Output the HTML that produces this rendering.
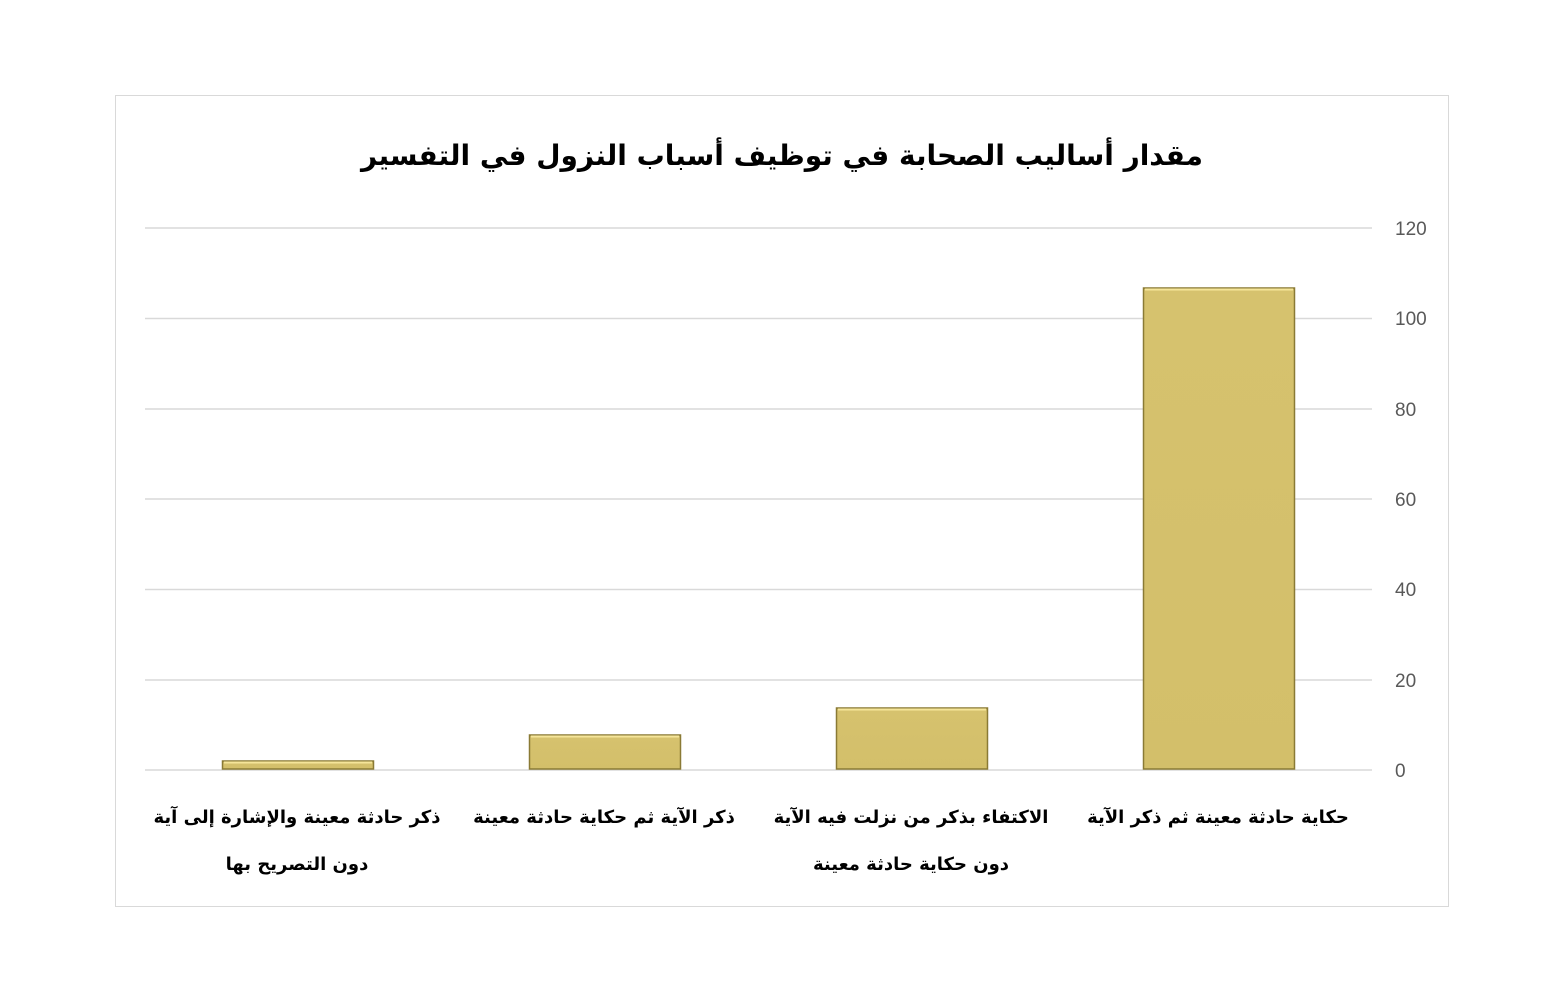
<!DOCTYPE html>
<html><head><meta charset="utf-8"><style>
body{margin:0;background:#fff;width:1562px;height:1001px;overflow:hidden}
svg{display:block}
.ar{font-family:"DejaVu Sans",sans-serif;font-weight:bold;fill:#000}
.t{font-family:"Liberation Sans",sans-serif;font-size:19px;fill:#595959}
</style></head><body>
<svg width="1562" height="1001" xmlns="http://www.w3.org/2000/svg">
<defs>
<linearGradient id="g" x1="0" x2="0" y1="0" y2="1"><stop offset="0" stop-color="#d6c26e"/><stop offset="1" stop-color="#d3bf6a"/></linearGradient>
</defs>
<rect x="115.5" y="95.5" width="1333" height="811" fill="#fff" stroke="#d9d9d9"/>
<text x="782" y="165" text-anchor="middle" class="ar" font-size="28" direction="rtl">مقدار أساليب الصحابة في توظيف أسباب النزول في التفسير</text>
<g stroke="#d9d9d9" stroke-width="1.5">
<line x1="145" x2="1372" y1="228" y2="228"/><line x1="145" x2="1372" y1="318.5" y2="318.5"/>
<line x1="145" x2="1372" y1="409" y2="409"/><line x1="145" x2="1372" y1="499" y2="499"/>
<line x1="145" x2="1372" y1="589.5" y2="589.5"/><line x1="145" x2="1372" y1="680" y2="680"/>
<line x1="145" x2="1372" y1="770" y2="770"/>
</g>
<g class="t">
<text x="1395" y="235">120</text><text x="1395" y="325">100</text><text x="1395" y="416">80</text>
<text x="1395" y="506">60</text><text x="1395" y="596">40</text><text x="1395" y="687">20</text><text x="1395" y="777">0</text>
</g>
<g fill="url(#g)" stroke="#8a7a35" stroke-width="1.5">
<rect x="1143.5" y="288" width="151" height="481"/>
<rect x="836.5" y="708" width="151" height="61"/>
<rect x="529.5" y="735" width="151" height="34"/>
<rect x="222.5" y="761" width="151" height="8"/>
</g>
<g stroke="#f5e59a" stroke-width="2">
<line x1="1145" x2="1293" y1="289.5" y2="289.5"/><line x1="838" x2="986" y1="709.5" y2="709.5"/>
<line x1="531" x2="679" y1="736.5" y2="736.5"/><line x1="224" x2="372" y1="762.5" y2="762.5"/>
</g>
<g class="ar" font-size="18" text-anchor="middle" direction="rtl">
<text x="1218" y="823">حكاية حادثة معينة ثم ذكر الآية</text>
<text x="911" y="823">الاكتفاء بذكر من نزلت فيه الآية</text>
<text x="911" y="870">دون حكاية حادثة معينة</text>
<text x="604" y="823">ذكر الآية ثم حكاية حادثة معينة</text>
<text x="297" y="823">ذكر حادثة معينة والإشارة إلى آية</text>
<text x="297" y="870">دون التصريح بها</text>
</g>
</svg>
</body></html>
